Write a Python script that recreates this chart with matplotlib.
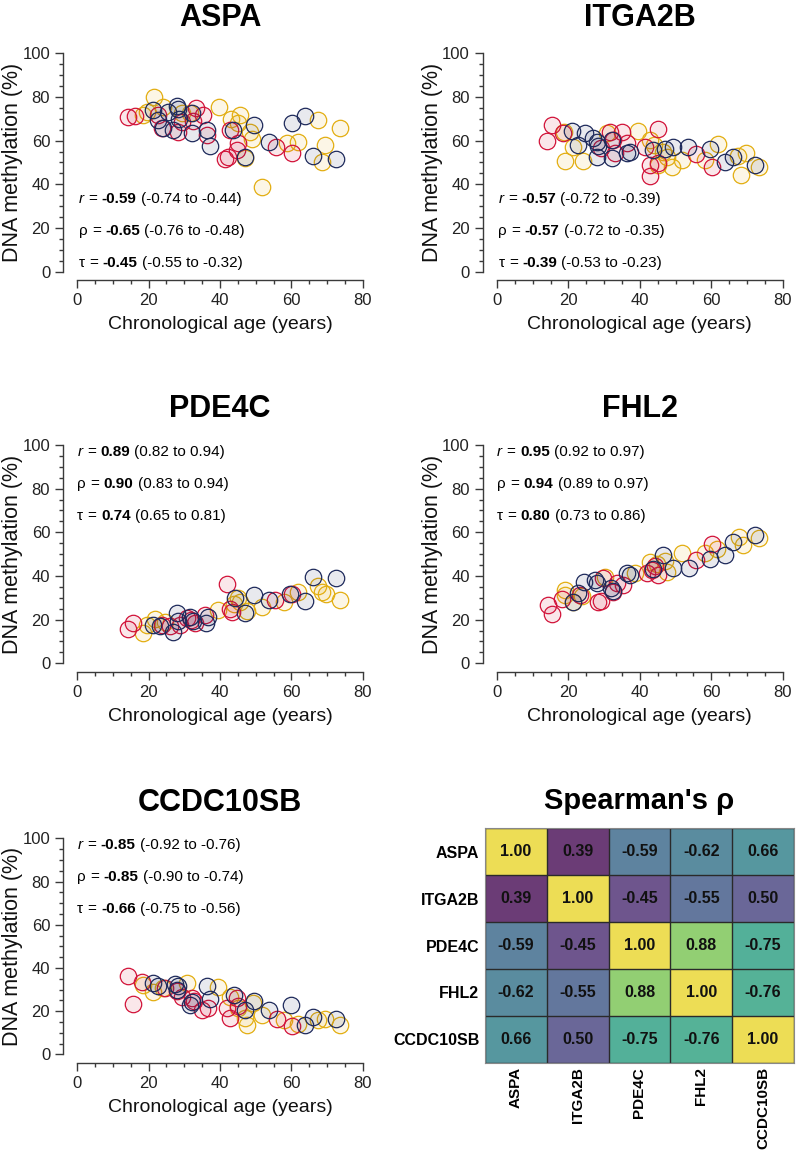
import matplotlib
matplotlib.use("Agg")
import matplotlib.pyplot as plt
import numpy as np
from matplotlib.ticker import MultipleLocator
from matplotlib.offsetbox import TextArea, HPacker, VPacker, AnchoredOffsetbox

plt.rcParams['font.family'] = ['Liberation Sans', 'DejaVu Sans']

genes = ["ASPA", "ITGA2B", "PDE4C", "FHL2", "CCDC10SB"]

# (age, methylation) per group
aspaRed = [(14.3, 71.0), (16.2, 71.3), (22.7, 71.7), (23.7, 65.7), (28.3, 64.1), (29.3, 68.7), (32.3, 69.0),
           (33.3, 74.8), (35.3, 71.7), (36.3, 62.6), (42.8, 64.9), (45.1, 58.8), (44.7, 55.7), (42.3, 52.7),
           (41.4, 51.5), (55.6, 57.2), (60.1, 54.5)]
aspaYellow = [(18.5, 71.7), (19.4, 73.3), (21.6, 79.8), (23.9, 75.6), (29.3, 72.5), (31.6, 72.5), (39.7, 75.6),
              (43.1, 69.9), (45.6, 71.7), (45.0, 67.9), (48.4, 64.1), (49.1, 60.6), (47.0, 51.9), (51.7, 38.6),
              (58.7, 58.8), (62.0, 59.5), (67.6, 69.5), (69.4, 58.0), (68.5, 50.4), (73.6, 65.9)]
aspaNavy = [(21.3, 74.0), (22.7, 69.5), (24.1, 65.7), (25.5, 73.0), (26.9, 64.9), (27.9, 75.9), (28.1, 74.5),
            (28.5, 70.0), (32.1, 63.4), (32.1, 72.5), (36.3, 64.9), (37.2, 57.6), (43.7, 64.9), (49.5, 67.2),
            (47.0, 52.7), (53.8, 59.5), (60.1, 67.9), (63.8, 71.3), (66.2, 53.0), (72.4, 51.6)]

itgaRed = [(14.1, 59.8), (15.5, 67.2), (18.6, 63.4), (31.6, 64.1), (35.1, 64.1), (32.6, 60.3), (36.3, 59.1),
           (33.0, 54.2), (29.0, 56.5), (45.2, 65.2), (41.4, 57.2), (42.8, 48.9), (42.8, 43.8), (45.2, 49.6),
           (55.6, 53.9), (60.1, 47.8)]
itgaYellow = [(18.9, 64.1), (19.0, 50.7), (21.4, 57.2), (24.2, 50.7), (30.7, 63.4), (39.6, 64.4), (42.8, 60.3),
              (44.0, 58.0), (46.4, 55.0), (45.2, 48.9), (47.5, 52.7), (48.9, 48.1), (51.7, 51.1), (58.2, 51.1),
              (61.8, 58.5), (67.6, 53.0), (69.6, 54.2), (68.3, 44.3), (73.4, 48.1)]
itgaNavy = [(20.9, 64.6), (22.8, 58.0), (24.6, 63.4), (27.0, 61.1), (27.9, 59.5), (28.3, 57.5), (27.9, 52.7),
            (32.1, 51.9), (32.1, 60.3), (36.3, 54.2), (37.2, 54.6), (43.8, 55.7), (47.0, 56.0), (49.4, 57.2),
            (53.6, 57.2), (59.6, 56.0), (63.8, 50.4), (66.2, 52.4), (72.2, 48.9)]

pdeRed = [(14.3, 15.6), (15.5, 18.3), (23.7, 17.5), (28.8, 17.5), (30.7, 20.6), (33.0, 18.3), (35.8, 22.1),
          (42.1, 36.3), (42.8, 24.7), (43.3, 23.5), (55.4, 29.0), (60.1, 31.6), (26.0, 17.0), (32.0, 20.0)]
pdeYellow = [(18.5, 14.0), (19.5, 17.5), (21.8, 20.1), (24.5, 19.0), (39.5, 24.4), (45.1, 29.8), (45.6, 28.0),
             (47.5, 24.0), (51.7, 25.9), (57.8, 28.2), (62.0, 32.8), (67.6, 35.4), (68.5, 32.8), (69.7, 31.6),
             (73.6, 29.0), (44.0, 27.0)]
pdeNavy = [(21.3, 17.5), (23.2, 17.1), (26.9, 14.5), (27.9, 22.9), (28.1, 19.5), (31.6, 21.1), (32.3, 19.5),
           (36.7, 21.3), (36.0, 18.5), (44.2, 29.8), (47.0, 22.9), (49.5, 31.3), (53.8, 29.0), (59.6, 31.6),
           (63.8, 28.5), (66.0, 39.4), (72.4, 38.9)]

fhlRed = [(14.2, 26.7), (15.5, 22.6), (18.3, 29.3), (23.2, 31.3), (28.4, 28.2), (29.0, 28.5), (29.8, 38.9),
          (32.6, 32.8), (35.4, 35.9), (33.5, 37.0), (41.9, 41.2), (43.3, 42.8), (45.2, 40.5), (44.3, 44.6),
          (55.6, 47.3), (60.1, 54.6)]
fhlYellow = [(19.0, 33.6), (19.0, 31.5), (21.4, 28.2), (23.8, 31.0), (30.2, 39.7), (38.6, 41.2), (42.8, 46.5),
             (44.9, 45.5), (47.5, 42.0), (51.7, 50.3), (58.2, 50.3), (61.5, 52.3), (67.9, 58.0), (69.0, 54.2),
             (73.5, 57.5), (47.0, 47.0)]
fhlNavy = [(21.4, 28.2), (22.8, 32.1), (24.4, 37.4), (27.4, 38.2), (27.9, 36.6), (31.9, 34.4), (32.4, 33.2),
           (36.3, 41.2), (37.2, 40.5), (43.8, 43.1), (46.6, 49.6), (49.4, 43.7), (53.8, 43.7), (59.6, 47.8),
           (63.8, 49.6), (66.2, 55.7), (72.2, 58.8)]

ccdcRed = [(14.3, 36.3), (15.5, 23.1), (18.0, 33.5), (24.6, 30.5), (29.3, 26.6), (32.1, 25.9), (32.6, 24.8),
           (34.9, 20.5), (36.7, 21.3), (41.9, 21.3), (42.8, 16.7), (44.7, 25.9), (45.1, 22.3), (55.9, 16.2),
           (60.1, 13.1), (28.0, 29.5)]
ccdcYellow = [(18.5, 32.1), (21.3, 29.0), (30.7, 32.9), (39.5, 31.0), (42.8, 26.6), (47.0, 16.7), (47.5, 13.6),
              (49.3, 23.6), (51.7, 18.2), (57.8, 15.9), (62.0, 14.0), (67.6, 15.9), (69.3, 16.2), (73.6, 13.6),
              (45.0, 21.5), (24.0, 30.5)]
ccdcNavy = [(21.3, 32.9), (22.7, 31.4), (27.4, 32.7), (27.9, 29.9), (28.3, 31.5), (31.6, 22.8), (32.1, 24.3),
            (36.3, 31.6), (37.2, 25.5), (43.9, 27.5), (47.0, 20.5), (49.5, 24.8), (53.8, 20.5), (59.8, 22.8),
            (63.8, 13.6), (66.0, 17.4), (72.4, 16.2)]

groupData = {
    "ASPA": [aspaYellow, aspaRed, aspaNavy],
    "ITGA2B": [itgaYellow, itgaRed, itgaNavy],
    "PDE4C": [pdeYellow, pdeRed, pdeNavy],
    "FHL2": [fhlYellow, fhlRed, fhlNavy],
    "CCDC10SB": [ccdcYellow, ccdcRed, ccdcNavy],
}
groupColors = ["#E3AE12", "#D2143A", "#1F2B5C"]

# r, rho, tau : (estimate, low, high)
pearsonR = [(-0.59, -0.74, -0.44), (-0.57, -0.72, -0.39), (0.89, 0.82, 0.94), (0.95, 0.92, 0.97), (-0.85, -0.92, -0.76)]
spearmanRho = [(-0.65, -0.76, -0.48), (-0.57, -0.72, -0.35), (0.90, 0.83, 0.94), (0.94, 0.89, 0.97), (-0.85, -0.90, -0.74)]
kendallTau = [(-0.45, -0.55, -0.32), (-0.39, -0.53, -0.23), (0.74, 0.65, 0.81), (0.80, 0.73, 0.86), (-0.66, -0.75, -0.56)]

rhoMatrix = np.array([
    [1.00, 0.39, -0.59, -0.62, 0.66],
    [0.39, 1.00, -0.45, -0.55, 0.50],
    [-0.59, -0.45, 1.00, 0.88, -0.75],
    [-0.62, -0.55, 0.88, 1.00, -0.76],
    [0.66, 0.50, -0.75, -0.76, 1.00],
])

W, H = 796, 1152
fig = plt.figure(figsize=(W / 100, H / 100), dpi=100)

# axes boxes in pixels: left, top, right, bottom of the data area
boxes = [(77.3, 53.3, 362.7, 271.7), (497, 53.3, 782.7, 271.7),
         (77.3, 445, 362.7, 663.3), (497, 445, 782.7, 663.3),
         (77.3, 838.3, 362.7, 1054.3)]
textTop = [False, False, True, True, True]
axisGrey = "#3a3a3a"


def statLine(sym, vals, italic=False):
    parts = [TextArea(sym, textprops=dict(fontsize=11, style='italic' if italic else 'normal')),
             TextArea("=", textprops=dict(fontsize=11)),
             TextArea("%.2f" % vals[0], textprops=dict(fontsize=11, weight='bold')),
             TextArea("(%.2f to %.2f)" % (vals[1], vals[2]), textprops=dict(fontsize=11))]
    return HPacker(children=parts, align="baseline", pad=0, sep=3.2)


for i, g in enumerate(genes):
    l, t, r, b = boxes[i]
    ax = fig.add_axes([l / W, 1 - b / H, (r - l) / W, (b - t) / H])
    for pts, c in zip(groupData[g], groupColors):
        pts = np.array(pts)
        ax.scatter(pts[:, 0], pts[:, 1], s=140, facecolor=matplotlib.colors.to_rgba(c, 0.1),
                   edgecolor=c, linewidth=0.9, zorder=3)
    ax.set_xlim(0, 80)
    ax.set_ylim(0, 100)
    ax.spines['top'].set_visible(False)
    ax.spines['right'].set_visible(False)
    ax.spines['left'].set_position(('outward', 10))
    ax.spines['bottom'].set_position(('outward', 6))
    for s in ['left', 'bottom']:
        ax.spines[s].set_color(axisGrey)
        ax.spines[s].set_linewidth(1.0)
    ax.xaxis.set_major_locator(MultipleLocator(20))
    ax.xaxis.set_minor_locator(MultipleLocator(5))
    ax.yaxis.set_major_locator(MultipleLocator(20))
    ax.yaxis.set_minor_locator(MultipleLocator(5))
    ax.tick_params(which='major', length=6, width=1.0, color=axisGrey, labelsize=12, labelcolor='#222222')
    ax.tick_params(which='minor', length=3, width=1.0, color=axisGrey)
    ax.set_ylabel("DNA methylation (%)", fontsize=15.5, color='#111111')
    ax.yaxis.set_label_coords(-0.19, 0.5)
    ax.set_xlabel("Chronological age (years)", fontsize=14, color='#111111')
    ax.xaxis.set_label_coords(0.5, -0.205)
    ax.set_title(g, fontsize=22, fontweight='bold', pad=20)

    lines = [statLine("r", pearsonR[i], italic=True), statLine("\u03c1", spearmanRho[i]),
             statLine("\u03c4", kendallTau[i])]
    box = VPacker(children=lines, align="left", pad=0, sep=13)
    if textTop[i]:
        anc = AnchoredOffsetbox(loc='upper left', child=box, bbox_to_anchor=(0.0, 1.0),
                                bbox_transform=ax.transAxes, frameon=False, pad=0, borderpad=0)
    else:
        anc = AnchoredOffsetbox(loc='lower left', child=box, bbox_to_anchor=(0.0, 0.0),
                                bbox_transform=ax.transAxes, frameon=False, pad=0, borderpad=0.1)
    ax.add_artist(anc)

# heatmap of Spearman's rho
hl, ht, hr, hb = 485, 828.3, 794, 1062.7
hax = fig.add_axes([hl / W, 1 - hb / H, (hr - hl) / W, (hb - ht) / H])
norm = plt.Normalize(vmin=np.abs(rhoMatrix).min(), vmax=1.0)
rgba = plt.get_cmap('viridis')(norm(np.abs(rhoMatrix)))
rgb = rgba[:, :, :3] * 0.7 + 0.3 * (200 / 255)
hax.imshow(rgb, aspect='auto', interpolation='nearest')
n = len(genes)
for k in range(n + 1):
    hax.axhline(k - 0.5, color='#2a2a2a', lw=1.0)
    hax.axvline(k - 0.5, color='#2a2a2a', lw=1.0)
for a in range(n):
    for c in range(n):
        hax.text(c, a, "%.2f" % rhoMatrix[a, c], ha='center', va='center', fontsize=11.5, fontweight='bold',
                 color='#111111')
hax.set_xticks(range(n))
hax.set_yticks(range(n))
hax.set_xticklabels(genes, rotation=90, fontsize=11, fontweight='bold')
hax.set_yticklabels(genes, fontsize=11.5, fontweight='bold')
hax.tick_params(axis='y', length=0, pad=4)
hax.tick_params(axis='x', length=0, pad=3)
for s in hax.spines.values():
    s.set_color('#888888')
hax.set_title("Spearman's \u03c1", fontsize=21, fontweight='bold', pad=14)

plt.savefig("out.png", dpi=100)
plt.close()
